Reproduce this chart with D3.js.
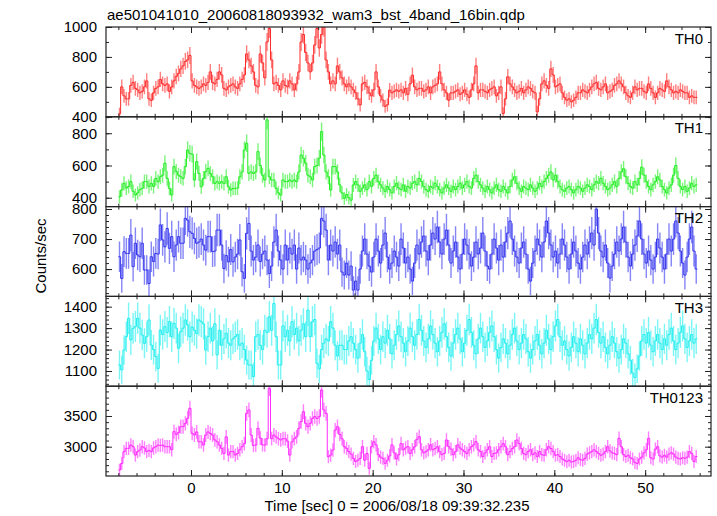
<!DOCTYPE html>
<html><head><meta charset="utf-8">
<script src="https://cdn.jsdelivr.net/npm/d3@7"></script>
<style>
body{margin:0;background:#fff;}
text{font-family:"Liberation Sans",Arial,Helvetica,sans-serif;fill:#000;}
</style></head><body>
<svg id="c" width="717" height="516"></svg>
<script>
// ---- data ----
const titleText = "ae501041010_20060818093932_wam3_bst_4band_16bin.qdp";
const xLabel = "Time [sec] 0 = 2006/08/18 09:39:32.235";
const yLabel = "Counts/sec";
const bandNames = ["TH0","TH1","TH2","TH3","TH0123"];
const tStart = -8.0;      // start of first bin (s)
const binWidth = 0.25;    // 16 bins of 1/64 s
const xTicks = [0,10,20,30,40,50];

const th0 = [
420,600,540,520, 520,610,630,590, 580,560,570,600, 640,520,510,560,
590,600,650,620, 610,620,570,600, 640,670,690,720, 740,770,780,810,
640,610,600,590, 600,620,610,630, 700,630,620,650, 700,680,590,580,
600,610,620,600, 590,620,650,680, 820,780,740,700, 610,600,820,760,
660,900,990,780, 620,630,610,580, 640,610,600,640, 620,580,620,700,
900,950,830,760, 700,760,880,990, 860,950,1000,780, 700,620,640,620,
740,700,660,620, 600,620,600,580, 560,520,480,620, 630,600,560,540,
580,700,600,540, 511,470,480,578, 560,570,580,570, 580,560,590,550,
620,678,600,580, 590,590,570,580, 600,560,600,610, 620,700,620,580,
560,511,560,560, 570,580,550,560, 580,550,530,580, 620,740,560,580,
580,570,560,580, 590,600,540,560, 600,422,520,667, 620,600,580,560,
570,590,560,580, 600,590,570,560, 433,520,620,640, 610,590,720,680,
600,610,620,560, 530,511,520,500, 510,530,560,560, 580,570,560,580,
600,620,630,590, 580,600,620,560, 570,580,610,620, 640,620,600,560,
540,530,560,600, 580,590,590,570, 560,620,590,560, 530,560,590,580,
570,640,600,580, 560,570,560,580, 570,560,560,530, 540,530,530];

const th1 = [
406,448,489,460, 470,500,440,417, 430,450,458,500, 500,470,489,470,
520,500,530,540, 614,520,458,417, 593,562,540,530, 520,593,696,675,
670,510,624,551, 468,520,562,582, 550,530,489,500, 489,500,489,530,
468,448,458,458, 460,530,560,696, 738,551,560,551, 560,686,600,540,
510,883,530,510, 510,458,430,417, 510,500,500,510, 500,510,500,560,
665,645,614,540, 530,510,593,600, 645,810,665,560, 530,448,593,593,
560,480,430,396, 420,400,385,479, 500,479,440,460, 480,450,500,470,
520,540,500,480, 460,440,470,450, 430,470,490,460, 450,480,440,470,
460,490,500,480, 520,500,470,450, 440,470,460,490, 470,450,430,460,
480,460,440,470, 450,470,490,460, 480,500,470,460, 520,540,500,480,
460,440,470,450, 430,460,480,450, 440,470,450,430, 470,510,530,490,
460,440,470,460, 450,480,460,440, 460,490,470,500, 520,540,560,510,
540,500,470,450, 440,460,470,450, 430,450,470,460, 440,460,480,470,
450,480,500,490, 520,490,470,450, 460,480,500,470, 520,560,580,530,
490,470,460,500, 480,520,590,540, 500,470,450,480, 500,530,510,470,
450,430,460,480, 540,600,520,470, 450,470,440,460, 490,470,480];

const th2 = [
641,569,658,652, 652,713,608,686, 647,641,686,597, 597,552,641,625,
652,650,747,697, 674,735,669,708, 641,680,708,686, 686,769,763,724,
719,702,686,690, 700,680,663,708, 708,658,660,730, 730,680,602,645,
624,665,624,640, 650,697,591,569, 719,752,660,630, 640,680,625,650,
660,630,585,610, 690,730,660,630, 600,680,630,670, 650,680,600,670,
630,640,630,600, 620,630,660,665, 670,769,760,730, 630,680,660,690,
650,680,590,580, 620,580,610,530, 560,530,600,660, 700,650,610,590,
640,700,660,620, 680,720,640,600, 620,660,640,610, 700,670,620,640,
600,560,620,680, 650,690,710,660, 630,680,720,700, 740,690,650,700,
730,680,620,660, 690,640,600,650, 700,680,650,610, 640,690,650,670,
720,660,610,600, 650,700,670,630, 680,640,690,720, 760,700,660,640,
620,670,690,650, 600,560,620,660, 700,680,640,690, 760,720,680,640,
660,620,650,700, 680,640,600,650, 690,660,620,600, 640,680,650,690,
720,680,800,720, 660,640,680,620, 570,610,650,690, 660,700,740,690,
640,610,650,680, 710,760,700,650, 620,660,630,600, 640,700,670,640,
600,650,700,660, 700,760,720,660, 620,580,640,700, 740,660,600];

const th3 = [
1128,1105,1198,1260, 1346,1245,1299,1307, 1346,1300,1268,1229, 1260,1338,1221,1200,
1167,1112,1291,1270, 1307,1280,1330,1260, 1322,1300,1206,1283, 1300,1338,1315,1260,
1305,1290,1275,1338, 1330,1320,1198,1260, 1300,1240,1320,1175, 1290,1220,1250,1276,
1230,1220,1250,1260, 1270,1220,1230,1200, 1151,1128,1128,1074, 1260,1270,1220,1200,
1290,1280,1353,1290, 1415,1260,1128,1128, 1310,1260,1290,1240, 1330,1270,1300,1240,
1290,1320,1260,1384, 1260,1330,1340,1136, 1110,1200,1230,1250, 1240,1330,1300,1220,
1170,1220,1220,1200, 1200,1240,1260,1230, 1200,1160,1230,1270, 1190,1100,1060,1150,
1240,1300,1250,1200, 1260,1230,1290,1250, 1180,1220,1270,1310, 1260,1230,1190,1240,
1300,1260,1220,1270, 1340,1290,1240,1210, 1250,1310,1270,1230, 1190,1240,1280,1320,
1260,1210,1170,1230, 1270,1300,1250,1190, 1230,1290,1340,1280, 1220,1180,1250,1300,
1260,1210,1240,1280, 1310,1260,1200,1160, 1210,1250,1230,1180, 1220,1270,1300,1240,
1200,1230,1270,1250, 1190,1160,1200,1240, 1270,1220,1180,1230, 1290,1250,1200,1260,
1310,1340,1260,1220, 1240,1200,1170,1210, 1260,1230,1190,1250, 1220,1180,1230,1270,
1250,1300,1340,1280, 1230,1260,1210,1180, 1220,1260,1230,1190, 1160,1200,1250,1230,
1180,1150,1090,1070, 1110,1170,1240,1270, 1230,1280,1220,1190, 1240,1270,1230,1200,
1250,1220,1270,1300, 1240,1200,1230,1280, 1310,1250,1210,1240, 1270,1230,1250];

const th0123 = [
2620,2728,2918,2973, 2973,3027,3000,2864, 2920,2946,3000,2980, 2920,2940,2920,2980,
3000,3027,3020,3027, 3000,3000,3000,2950, 3245,3200,3230,3326, 3326,3380,3462,3625,
3217,3190,3240,3080, 3080,3027,3190,3240, 3217,3190,3110,3080, 3027,2973,2891,3160,
2864,2920,2920,2864, 2890,2950,3000,3050, 3543,3598,3190,3020, 3027,3300,3140,3030,
3027,3130,3951,3130, 3190,3160,3130,3110, 3130,3130,3090,2864, 3080,3130,3160,3300,
3408,3570,3380,3326, 3380,3460,3490,3460, 3490,3924,3600,3543, 2837,2864,2946,3270,
3326,3200,3130,3000, 2973,2920,2880,2810, 2760,2780,2810,3000, 2780,2890,2647,3000,
3081,3030,2870,2830, 2810,2728,2780,2850, 3030,2900,2800,2870, 3050,2950,2980,3000,
2890,2950,3000,3120, 3163,2950,2900,2920, 2950,3030,2950,2970, 3000,2920,2870,2890,
3109,3000,2960,2870, 2920,3030,2980,2950, 2920,2890,2950,3000, 3030,3081,2950,2920,
2840,2900,2950,3000, 2840,2890,2900,2950, 3000,3050,3000,2870, 2920,2970,3000,3109,
3050,2970,2890,2870, 2920,2950,2870,2900, 2840,2920,2870,2860, 2950,3000,2970,2920,
2860,2870,2840,2800, 2780,2755,2780,2750, 2760,2780,2820,2790, 2780,2810,2880,2900,
2920,2950,2920,2890, 2860,2880,2920,3000, 2930,2900,2890,2870, 3136,3000,2870,2840,
2860,2820,2800,2740, 2728,2800,2830,2900, 2950,3136,2820,2800, 2960,3000,2850,2830,
2860,2830,2880,2900, 2880,2830,2810,2800, 2820,2810,2830,2920, 2890,2760,2840];

const seriesValues = [th0, th1, th2, th3, th0123];
const yDomains = [[400,1000],[345,902],[509,808],[1029,1448],[2523,3985]];
const yMajor = [[400,600,800,1000],[400,600,800],[600,700,800],[1100,1200,1300,1400],[3000,3500]];

// ---- style ----
const colors = ["#ff2a2a","#22ee22","#3434ee","#22eeee","#ff2aff"];
const minorStep = [100,100,20,20,100];
const L = 106, R = 711, panelTop = 27, panelH = 89.8;
const svg = d3.select("#c");
const x = d3.scaleLinear().domain([-9.36, 57.25]).range([L, R]);
const frameColor = "#222";

svg.append("text").attr("x", 107).attr("y", 20).attr("font-size", 15).text(titleText);

const defs = svg.append("defs");

seriesValues.forEach((vals, i) => {
  const top = panelTop + i*panelH, bot = top + panelH;
  const y = d3.scaleLinear().domain(yDomains[i]).range([bot, top]);
  const g = svg.append("g");
  defs.append("clipPath").attr("id","clip"+i).append("rect")
    .attr("x", L).attr("y", top).attr("width", R-L).attr("height", panelH);
  const data = vals.map((v,k) => ({t0: tStart + k*binWidth, t1: tStart + (k+1)*binWidth, v, e: Math.sqrt(v*binWidth)/binWidth}));
  const dg = g.append("g").attr("clip-path", `url(#clip${i})`).attr("stroke", colors[i]).attr("fill","none");
  // vertical error bars
  dg.selectAll("line.v").data(data).join("line").attr("class","v")
    .attr("x1", d => x((d.t0+d.t1)/2)).attr("x2", d => x((d.t0+d.t1)/2))
    .attr("y1", d => y(d.v - d.e)).attr("y2", d => y(d.v + d.e))
    .attr("stroke-width", 1.4).attr("stroke-opacity", 0.6);
  // step line through bins
  const pts = data.flatMap(d => [[d.t0, d.v],[d.t1, d.v]]);
  dg.append("path").datum(pts)
    .attr("d", d3.line().x(p => x(p[0])).y(p => y(p[1])))
    .attr("stroke-width", 1);

  // axes: ticks inward on all four sides
  const yMinor = d3.range(Math.ceil(yDomains[i][0]/minorStep[i])*minorStep[i], yDomains[i][1]+0.001, minorStep[i]);
  const axL = d3.axisLeft(y).tickValues(yMajor[i]).tickSize(-6).tickPadding(9).tickFormat(d3.format("d"));
  const axLm = d3.axisLeft(y).tickValues(yMinor).tickSize(-3).tickFormat("");
  const axR = d3.axisRight(y).tickValues(yMajor[i]).tickSize(-6).tickFormat("");
  const axRm = d3.axisRight(y).tickValues(yMinor).tickSize(-3).tickFormat("");
  const xMinor = d3.range(-8, 57, 2);
  const axB = d3.axisBottom(x).tickValues(xTicks).tickSize(-6).tickFormat(i===4 ? d3.format("d") : "").tickPadding(6);
  const axBm = d3.axisBottom(x).tickValues(xMinor).tickSize(-3).tickFormat("");
  const axT = d3.axisTop(x).tickValues(xTicks).tickSize(-6).tickFormat("");
  const axTm = d3.axisTop(x).tickValues(xMinor).tickSize(-3).tickFormat("");
  const put = (ax, tr) => {
    const a = g.append("g").attr("transform", tr).call(ax);
    a.select(".domain").remove();
    a.selectAll("line").attr("stroke", frameColor);
    a.selectAll("text").attr("font-size", 15).attr("fill","#000").style("font-family",'"Liberation Sans",Arial,sans-serif');
    return a;
  };
  put(axLm, `translate(${L},0)`); put(axL, `translate(${L},0)`);
  put(axRm, `translate(${R},0)`); put(axR, `translate(${R},0)`);
  put(axBm, `translate(0,${bot})`); put(axB, `translate(0,${bot})`);
  put(axTm, `translate(0,${top})`); put(axT, `translate(0,${top})`);

  g.append("rect").attr("x", L).attr("y", top).attr("width", R-L).attr("height", panelH)
    .attr("fill","none").attr("stroke", frameColor).attr("stroke-width", 1.2);
  g.append("text").attr("x", 703).attr("y", top + 16.5).attr("text-anchor","end")
    .attr("font-size", 15).text(bandNames[i]);
});

svg.append("text").attr("x", 397).attr("y", 511).attr("text-anchor","middle").attr("font-size", 15).text(xLabel);
svg.append("text").attr("transform","translate(46,256) rotate(-90)").attr("text-anchor","middle")
  .attr("font-size", 15).text(yLabel);
</script>
</body></html>
